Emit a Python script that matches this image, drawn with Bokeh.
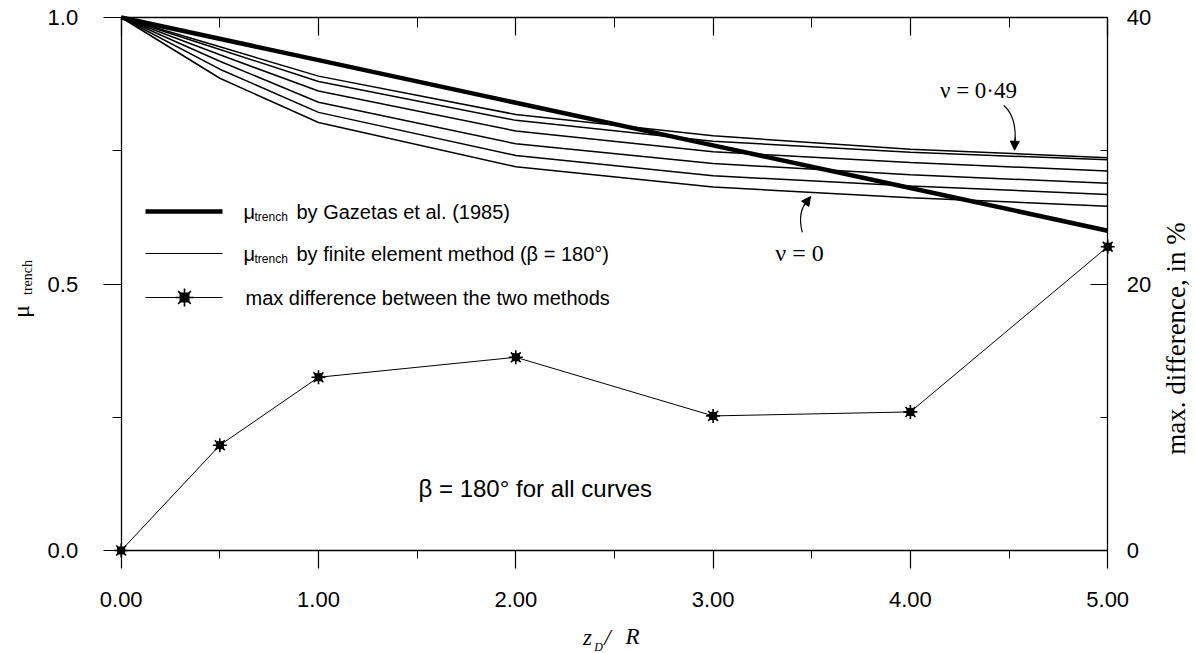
import math

from bokeh.plotting import figure
from bokeh.models import (Range1d, LinearAxis, FixedTicker, PrintfTickFormatter,
                          CustomJSTickFormatter, Label, Arrow, NormalHead)
from bokeh.embed import file_html
from bokeh.resources import INLINE

# ---- data -------------------------------------------------------------
# trench depth ratio z_D / R
z_gazetas = [0, 1, 2, 3, 4, 5]
mu_gazetas = [1.0, 0.92, 0.84, 0.76, 0.68, 0.60]

z_fem = [0, 0.5, 1, 2, 3, 4, 5]
# finite element curves, Poisson's ratio from 0.49 (top) down to 0 (bottom)
mu_fem_1 = [1.0, 0.945, 0.890, 0.818, 0.778, 0.753, 0.737]
mu_fem_2 = [1.0, 0.940, 0.880, 0.807, 0.768, 0.747, 0.733]
mu_fem_3 = [1.0, 0.930, 0.862, 0.787, 0.748, 0.728, 0.712]
mu_fem_4 = [1.0, 0.918, 0.841, 0.763, 0.726, 0.705, 0.689]
mu_fem_5 = [1.0, 0.903, 0.822, 0.741, 0.703, 0.684, 0.668]
mu_fem_6 = [1.0, 0.886, 0.803, 0.720, 0.682, 0.662, 0.646]
fem_curves = [mu_fem_1, mu_fem_2, mu_fem_3, mu_fem_4, mu_fem_5, mu_fem_6]

# maximum difference between the two methods, in %
z_diff = [0, 0.5, 1, 2, 3, 4, 5]
max_diff_pct = [0, 7.9, 13.0, 14.5, 10.1, 10.4, 22.8]

x_ticks = [0, 1, 2, 3, 4, 5]
x_minor = [0.5, 1.5, 2.5, 3.5, 4.5]
y_ticks = [0.0, 0.5, 1.0]
y_minor = [0.25, 0.75]
diff_ticks = [0, 20, 40]
diff_minor = [10, 30]

# ---- canvas geometry --------------------------------------------------
# The frame fills the whole canvas; axes are pinned at fixed data
# locations so that titles and notes around them stay inside the frame.
W, H = 1195, 653
X0_PX, PX_PER_X = 120.7, 197.3   # pixel of z = 0, pixels per unit z
Y0_PX, PX_PER_Y = 550.0, 533.0   # pixel of mu = 0, pixels per unit mu
DIFF_MAX = 40.0


def xd(px):
    return (px - X0_PX) / PX_PER_X


def yd(py):
    return (Y0_PX - py) / PX_PER_Y


INK = "black"
SANS = "Liberation Sans"
SERIF = "Liberation Serif"

p = figure(width=W, height=H, title=None,
           x_range=Range1d(xd(0), xd(W)), y_range=Range1d(yd(H), yd(0)),
           x_axis_location=None, y_axis_location=None,
           output_backend="svg", toolbar_location=None,
           min_border=0, background_fill_color="white", border_fill_color="white")
p.outline_line_color = None
for g in p.grid:
    g.visible = False
p.extra_y_ranges = {"diff": Range1d(yd(H) * DIFF_MAX, yd(0) * DIFF_MAX)}


def style_axis(ax, tick_in, tick_out, minor_in, minor_out, standoff):
    ax.axis_line_color = INK
    ax.axis_line_width = 1.3
    ax.major_tick_line_color = INK
    ax.minor_tick_line_color = INK
    ax.major_tick_line_width = 1.2
    ax.minor_tick_line_width = 1.0
    ax.major_tick_in = tick_in
    ax.major_tick_out = tick_out
    ax.minor_tick_in = minor_in
    ax.minor_tick_out = minor_out
    ax.major_label_standoff = standoff
    ax.major_label_text_font = SANS
    ax.major_label_text_font_size = "22px"
    ax.major_label_text_color = INK


xa = LinearAxis(fixed_location=0, bounds=(0, 5),
                ticker=FixedTicker(ticks=x_ticks, minor_ticks=x_minor),
                formatter=PrintfTickFormatter(format="%.2f"))
style_axis(xa, 0, 18, 0, 8, 23)
p.add_layout(xa, "below")

ta = LinearAxis(fixed_location=1, bounds=(0, 5),
                ticker=FixedTicker(ticks=x_ticks, minor_ticks=x_minor),
                formatter=CustomJSTickFormatter(code="return ''"))
style_axis(ta, 18, 0, 10, 0, 0)
p.add_layout(ta, "above")

ya = LinearAxis(fixed_location=0, bounds=(0, 1),
                ticker=FixedTicker(ticks=y_ticks, minor_ticks=y_minor),
                formatter=PrintfTickFormatter(format="%.1f"))
style_axis(ya, 0, 18, 0, 9, 25)
p.add_layout(ya, "left")

ra = LinearAxis(fixed_location=5, bounds=(0, DIFF_MAX), y_range_name="diff",
                ticker=FixedTicker(ticks=diff_ticks, minor_ticks=diff_minor),
                formatter=PrintfTickFormatter(format="%d"))
style_axis(ra, 17, 0, 7, 0, 19)
p.add_layout(ra, "right")

# ---- curves -----------------------------------------------------------
for curve in fem_curves:
    p.line(z_fem, curve, line_color=INK, line_width=1.5)
p.line(z_gazetas, mu_gazetas, line_color=INK, line_width=4.5)

p.line(z_diff, max_diff_pct, y_range_name="diff", line_color=INK, line_width=1.0)
p.scatter(z_diff, max_diff_pct, y_range_name="diff", marker="asterisk",
          size=14, line_color=INK, line_width=1.6)
p.scatter(z_diff, max_diff_pct, y_range_name="diff", marker="square",
          size=7, line_color=INK, fill_color=INK)


# ---- text helper (positions given in canvas pixels) -------------------
def label(px, py, text, size, font=SANS, style="normal", align="left",
          baseline="middle", angle=0.0):
    p.add_layout(Label(x=xd(px), y=yd(py), text=text,
                       text_font=font, text_font_size=f"{size}px",
                       text_font_style=style, text_align=align,
                       text_baseline=baseline, angle=angle, text_color=INK))


# ---- legend (drawn by hand for the subscripted symbol) ----------------
leg_x0, leg_x1, leg_mark = xd(145), xd(222), xd(184)
rows = [211, 253, 297]

p.line([leg_x0, leg_x1], [yd(rows[0])] * 2, line_color=INK, line_width=4.5)
p.line([leg_x0, leg_x1], [yd(rows[1])] * 2, line_color=INK, line_width=1.2)
p.line([leg_x0, leg_x1], [yd(rows[2])] * 2, line_color=INK, line_width=1.0)
p.scatter([leg_mark], [yd(rows[2])], marker="asterisk", size=18, line_color=INK, line_width=1.6)
p.scatter([leg_mark], [yd(rows[2])], marker="square", size=9, line_color=INK, fill_color=INK)

for row, rest in [(rows[0], "by Gazetas et al. (1985)"),
                  (rows[1], "by finite element method (β = 180°)")]:
    label(243, row, "μ", 20)
    label(254, row + 5, "trench", 12)
    label(296, row, rest, 20)
label(245, rows[2], "max difference between the two methods", 20)

# ---- annotations ------------------------------------------------------
label(978, 90, "ν = 0·49", 23, font=SERIF, align="center")
p.quadratic(x0=[4.473], y0=[0.835], x1=[4.528], y1=[0.757], cx=[4.545], cy=[0.812],
            line_color=INK, line_width=1.2)
p.add_layout(Arrow(end=NormalHead(size=9, fill_color=INK, line_color=INK),
                   x_start=4.530, y_start=0.775, x_end=4.528, y_end=0.751,
                   line_color=INK, line_width=1.2))

label(799, 252, "ν = 0", 24, font=SERIF, align="center")
p.quadratic(x0=[3.452], y0=[0.597], x1=[3.488], y1=[0.660], cx=[3.423], cy=[0.638],
            line_color=INK, line_width=1.2)
p.add_layout(Arrow(end=NormalHead(size=9, fill_color=INK, line_color=INK),
                   x_start=3.460, y_start=0.647, x_end=3.494, y_end=0.664,
                   line_color=INK, line_width=1.2))

label(418, 488, "β = 180° for all curves", 24)

# ---- axis titles ------------------------------------------------------
label(20, 311, "μ", 24, font=SERIF, align="center", angle=math.pi / 2)
label(27, 277, "trench", 14, font=SERIF, align="center", angle=math.pi / 2)

label(587, 637, "z", 23, font=SERIF, style="italic", align="center")
label(598, 646, "D", 12, font=SERIF, style="italic", align="center")
label(607, 637, "/", 23, font=SERIF, style="italic", align="center")
label(632, 636, "R", 23, font=SERIF, style="italic", align="center")

label(1175, 338, "max. difference, in %", 27, font=SERIF, align="center",
      angle=math.pi / 2)

open("out.html", "w").write(file_html(p, INLINE))
